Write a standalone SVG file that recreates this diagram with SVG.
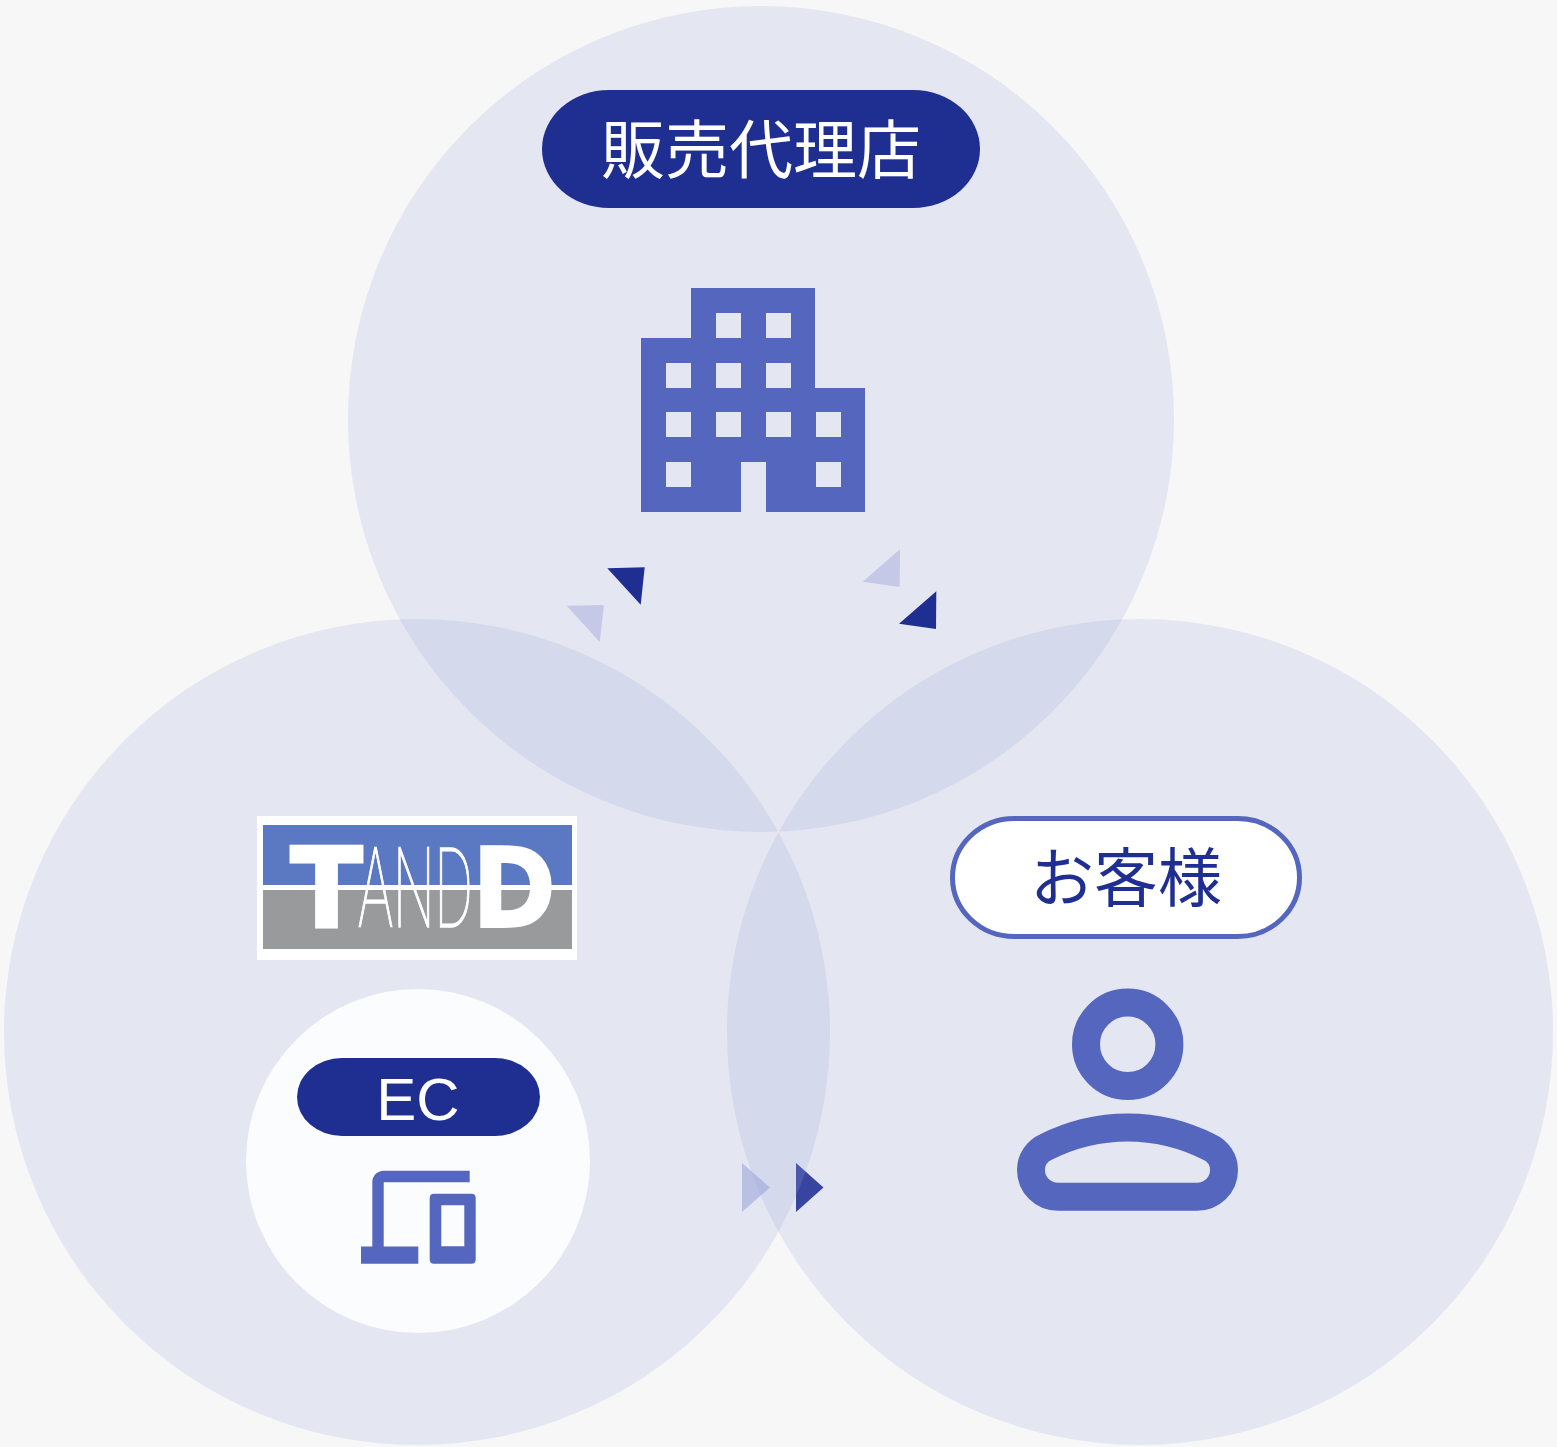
<svg xmlns="http://www.w3.org/2000/svg" width="1557" height="1447" viewBox="0 0 1557 1447">
<style>
.zone{fill:#9ca3de;fill-opacity:.2}
.navy{fill:#1f2e91}
.light{fill:#c5c9e7}
.icon{fill:#5566bf}
.ln{fill:none;stroke:#5566bf;stroke-width:28}
text{font-family:"Noto Sans CJK JP","Noto Sans",sans-serif;text-anchor:middle;font-size:64px}
.logo{fill:#fff;font-family:"DejaVu Sans",sans-serif;font-weight:700;font-size:110px;text-anchor:start;stroke:#fff}
</style>
<rect width="1557" height="1447" fill="#f7f7f7"/>
<g id="connectors-under">
<polygon points="742,1163 770,1187.5 742,1212" fill="#c1c7e6"/>
<polygon class="navy" points="796,1163 823.500,1187.500 796,1212"/>
</g>
<g id="zones">
<circle class="zone" cx="761" cy="419" r="413"/>
<circle class="zone" cx="417" cy="1032" r="413"/>
<circle class="zone" cx="1140" cy="1032" r="413"/>
</g>
<g id="connectors">
<polygon class="navy" points="607.300,568.300 644.700,567.300 640.700,604.700"/>
<polygon class="light" points="566.700,605.700 604,605 599.700,642"/>
<polygon class="light" points="900,549.300 899.700,587 862.700,581.700"/>
<polygon class="navy" points="936.300,591.300 936,629 899,623.700"/>
</g>
<g id="node-dealer">
<rect class="navy" x="542" y="90" width="438" height="118" rx="67" ry="59"/>
<text x="761" y="173" fill="#fff" font-weight="400">販売代理店</text>
<path class="icon" fill-rule="evenodd" d="M691 288H815V388H865V512H766V462H741V512H641V338H691ZM716 313v25h25v-25ZM766 313v25h25v-25ZM666 363v25h25v-25ZM716 363v25h25v-25ZM766 363v25h25v-25ZM666 412v25h25v-25ZM716 412v25h25v-25ZM766 412v25h25v-25ZM816 412v25h25v-25ZM666 462v25h25v-25ZM816 462v25h25v-25Z"/>
</g>
<g id="node-tandd">
<rect x="257" y="816" width="320" height="144" fill="#fff"/>
<rect x="263" y="825" width="309" height="60" fill="#5b78c2"/>
<rect x="263" y="890" width="309" height="59" fill="#999a9c"/>
<text class="logo" transform="translate(290.500 926.500) scale(.96 1)" stroke-width="3">T</text>
<text class="logo" transform="translate(472 926.500) scale(.92 1)" stroke-width="2">D</text>
<text x="358" y="926.500" style="font-family:Roboto,sans-serif;font-weight:100;font-size:112px;text-anchor:start;stroke:#fff;stroke-width:1.300" fill="#fff" textLength="115" lengthAdjust="spacingAndGlyphs">AND</text>
</g>
<g id="node-ec">
<circle cx="418" cy="1161" r="172" fill="#fbfcfe"/>
<rect class="navy" x="297" y="1058" width="243" height="78" rx="45" ry="39"/>
<text x="418" y="1120" fill="#fff" style="font-family:'Liberation Sans',sans-serif;font-size:60px">EC</text>
<path class="icon" d="M469.700 1170.700V1182.300H383.700V1246.500H418.300V1263.700H361V1246.500H372.300V1182C372.300 1175.700 377.400 1170.700 383.700 1170.700Z"/>
<path class="icon" fill-rule="evenodd" d="M434 1193.700H471.500Q475.700 1193.700 475.700 1198V1259.500Q475.700 1263.700 471.500 1263.700H434Q429.700 1263.700 429.700 1259.500V1198Q429.700 1193.700 434 1193.700ZM441.300 1205.300V1246.300H464.300V1205.300Z"/>
</g>
<g id="node-customer">
<rect x="952.500" y="818.500" width="347" height="118" rx="62" ry="59" fill="#fff" stroke="#5566bf" stroke-width="5"/>
<text x="1126" y="901" class="navy" font-weight="400">お客様</text>
<circle class="ln" cx="1127.700" cy="1044.300" r="41.700"/>
<path class="ln" d="M1058 1196.700H1197C1212 1196.700 1224 1185 1224 1170C1224 1160 1218 1151 1209 1147C1183 1134 1156 1127.500 1127.700 1127.500C1099 1127.500 1072 1134 1046 1147C1037 1151 1031 1160 1031 1170C1031 1185 1043 1196.700 1058 1196.700Z"/>
</g>
</svg>
